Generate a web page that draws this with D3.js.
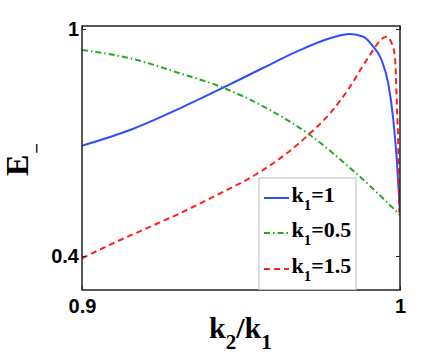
<!DOCTYPE html>
<html><head><meta charset="utf-8">
<script src="https://cdn.jsdelivr.net/npm/d3@7"></script>
<style>body{margin:0;background:#fff}svg{display:block}</style>
</head><body><svg id="c" width="442" height="358"></svg>
<script>
// Data
const xTicks = [0.9, 1];
const yTicks = [0.4, 1];
const blueX  = [0.9, 0.9151, 0.9308, 0.9444, 0.9569, 0.9675, 0.978, 0.9843, 0.9885, 0.9916, 0.9942, 0.9963, 0.9979, 0.999, 1.0];
const blueY  = [0.6915, 0.733, 0.7904, 0.8448, 0.8969, 0.94, 0.9754, 0.9868, 0.9796, 0.9532, 0.918, 0.8565, 0.7595, 0.6537, 0.5136];
const greenX = [0.9, 0.9151, 0.9308, 0.9444, 0.9591, 0.9717, 0.9843, 0.9874, 1.0];
const greenY = [0.9445, 0.9226, 0.8829, 0.8448, 0.7859, 0.7198, 0.6326, 0.6096, 0.5084];
const redX   = [0.9, 0.9098, 0.9203, 0.9308, 0.9413, 0.9549, 0.9644, 0.9717, 0.978, 0.9843, 0.9895, 0.9958, 0.9974, 0.9984, 0.999, 0.9995, 0.9998];
const redY   = [0.3939, 0.4336, 0.4732, 0.5129, 0.5567, 0.6167, 0.6714, 0.7243, 0.7772, 0.8475, 0.9181, 0.9796, 0.9622, 0.9268, 0.8044, 0.6722, 0.5136];
const seriesNames = ["1", "0.5", "1.5"];

const svg = d3.select("#c");
const L = 82, R = 400, T = 26, B = 290;
const x = d3.scaleLinear().domain([0.9, 1]).range([L, R]);
const y = d3.scaleLinear().domain([0.3101, 1.0079]).range([B, T]);

svg.append("defs").append("clipPath").attr("id", "clip")
  .append("rect").attr("x", L).attr("y", T).attr("width", R - L).attr("height", B - T);

const series = [
  {xs: blueX, ys: blueY, color: "#2f4dff", dash: null},
  {xs: greenX, ys: greenY, color: "#22aa22", dash: "6,3,1.5,3"},
  {xs: redX, ys: redY, color: "#ff1f1f", dash: "6,4"}
];
const line = d3.line().x(d => x(d[0])).y(d => y(d[1])).curve(d3.curveMonotoneX);
const g = svg.append("g").attr("clip-path", "url(#clip)");
series.forEach(s => {
  g.append("path").datum(s.xs.map((v, i) => [v, s.ys[i]]))
    .attr("d", line).attr("fill", "none").attr("stroke", s.color)
    .attr("stroke-width", 2).attr("stroke-dasharray", s.dash);
});

// Axes
const fontAx = "'Liberation Sans', Arial, sans-serif";
const ax = svg.append("g");
ax.append("g").attr("transform", `translate(0,${B})`)
  .call(d3.axisBottom(x).tickValues(xTicks).tickFormat(d3.format("")).tickSize(-4).tickPadding(9));
ax.append("g").attr("transform", `translate(${L},0)`)
  .call(d3.axisLeft(y).tickValues(yTicks).tickFormat(d3.format("")).tickSize(-4).tickPadding(3));
ax.append("g").attr("transform", `translate(${R},0)`)
  .call(d3.axisRight(y).tickValues(yTicks).tickFormat("").tickSize(-4));
ax.append("g").attr("transform", `translate(0,${T})`)
  .call(d3.axisTop(x).tickValues(xTicks).tickFormat("").tickSize(-4));
ax.selectAll(".domain").remove();
ax.selectAll("line").attr("stroke", "#222");
ax.selectAll("text").attr("font-family", fontAx).attr("font-weight", "bold")
  .attr("font-size", 20).attr("fill", "#000");
svg.append("rect").attr("x", L).attr("y", T).attr("width", R - L).attr("height", B - T)
  .attr("fill", "none").attr("stroke", "#222").attr("stroke-width", 1.5);

// Legend
const serif = "'Liberation Serif', 'Times New Roman', serif";
const lg = svg.append("g");
lg.append("rect").attr("x", 259).attr("y", 178).attr("width", 97).attr("height", 111.5)
  .attr("fill", "#fff").attr("stroke", "#bbb").attr("stroke-width", 1);
const rowsY = [198, 233, 269];
series.forEach((s, i) => {
  lg.append("line").attr("x1", 264).attr("x2", 289).attr("y1", rowsY[i]).attr("y2", rowsY[i])
    .attr("stroke", s.color).attr("stroke-width", 2).attr("stroke-dasharray", s.dash);
  const t = lg.append("text").attr("x", 291.5).attr("y", rowsY[i] + 3.5)
    .attr("font-family", serif).attr("font-weight", "bold").attr("font-size", 22);
  t.append("tspan").text("k");
  t.append("tspan").attr("font-size", 15).attr("dy", 8).text("1");
  t.append("tspan").attr("dy", -8).text("=" + seriesNames[i]);
});

// Axis labels
const xl = svg.append("text").attr("x", 209).attr("y", 338)
  .attr("font-family", serif).attr("font-weight", "bold").attr("font-size", 30);
xl.append("tspan").text("k");
xl.append("tspan").attr("font-size", 21).attr("dy", 11).text("2");
xl.append("tspan").attr("dy", -11).text("/k");
xl.append("tspan").attr("font-size", 21).attr("dy", 11).text("1");

const yl = svg.append("text").attr("transform", "translate(28,176) rotate(-90)")
  .attr("font-family", serif).attr("font-weight", "bold").attr("font-size", 32);
yl.append("tspan").text("E");
yl.append("tspan").attr("font-size", 19).attr("dx", 1).attr("dy", 15).text("\u2212");
</script></body></html>
